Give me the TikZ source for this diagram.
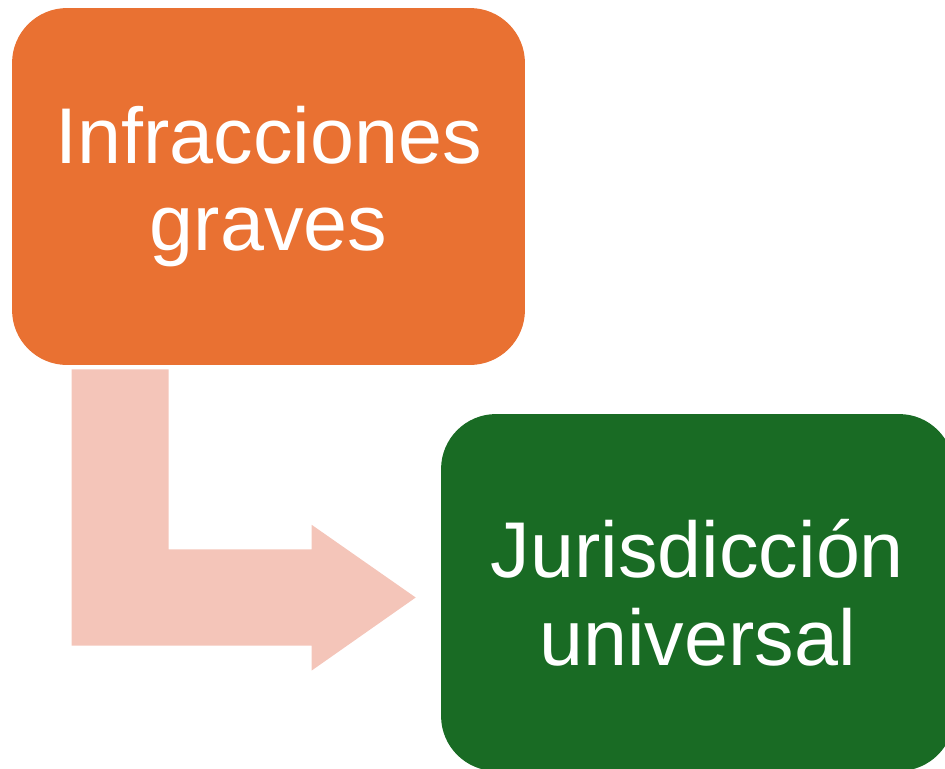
\documentclass[tikz,border=0pt]{standalone}
\usepackage{fontspec}
\setmainfont{Liberation Sans}
\usepackage{tikz}
\usetikzlibrary{positioning}
\usetikzlibrary{calc}

\definecolor{naranja}{HTML}{E97132}
\definecolor{verde}{HTML}{196B24}
\definecolor{rosado}{HTML}{F4C5B9}

\begin{document}
\begin{tikzpicture}[x=0.02cm,y=-0.02cm,
    caja/.style={rectangle,rounded corners=1.1cm,minimum width=10.26cm,
      minimum height=7.14cm,align=center,text=white,inner sep=0pt,
      font=\fontsize{45}{50}\selectfont},
    flecha/.style={fill=rosado}]
        \clip (0,0) rectangle (945,768);

        \node[caja,fill=naranja] (infr) at (268.5,186.5) {Infracciones\\graves};
        \node[caja,fill=verde] (juris) at (697.5,592.5) {Jurisdicción\\universal};

        \coordinate (punta) at ($(juris.west)+(-25,5)$);
        \fill[flecha] ($(infr.south west)+(60,4)$) -- ++(97,0) -- ++(0,180)
          -- ++(143,0) -- ++(0,-24.5) -- (punta) -- ++(-104,73)
          -- ++(0,-25) -- ++(-240,0) -- cycle;
      \end{tikzpicture}
\end{document}
